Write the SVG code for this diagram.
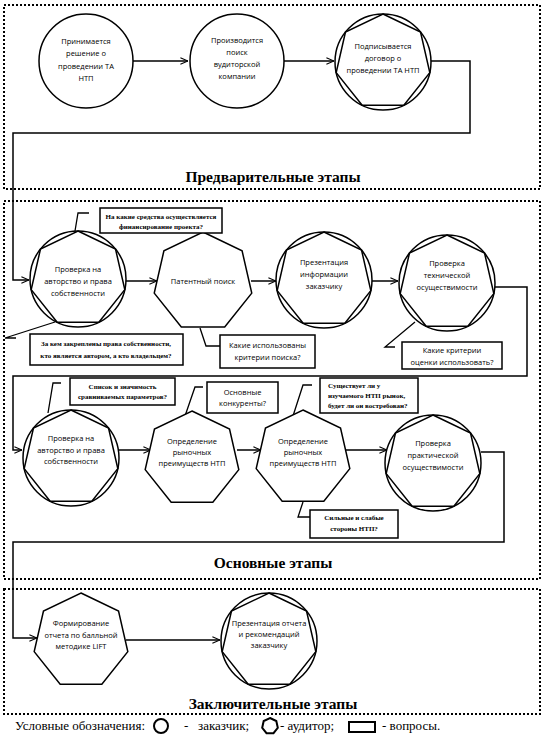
<svg xmlns="http://www.w3.org/2000/svg" xmlns:xlink="http://www.w3.org/1999/xlink" width="548" height="739" viewBox="0 0 548 739">
<style>
.bg{fill:#fff}
.frame{fill:none;stroke:#000;stroke-width:2;stroke-dasharray:2 2}
.shape{fill:#fff;stroke:#000;stroke-width:1.5}
.inner{fill:none;stroke:#000;stroke-width:1.5}
.box{fill:#fff;stroke:#000;stroke-width:1.5}
.con{fill:none;stroke:#000;stroke-width:1.5}
.lead{fill:none;stroke:#000;stroke-width:1.3}
.t{font-family:"Open Sans","Liberation Sans",sans-serif;font-size:7.5px;text-anchor:middle;fill:#000}
.q{font-family:"Liberation Serif","DejaVu Serif",serif;font-size:7px;font-weight:bold;text-anchor:middle;fill:#000}
.title{font-family:"Liberation Serif","DejaVu Serif",serif;font-size:15.5px;font-weight:bold;text-anchor:middle;fill:#000}
.leg{font-family:"Liberation Serif","DejaVu Serif",serif;font-size:13px;fill:#000}
</style>
<defs>
<polygon id="h48" points="0,-48 37.53,-29.93 46.8,10.68 20.83,43.25 -20.83,43.25 -46.8,10.68 -37.53,-29.93"/>
<polygon id="h50" points="0,-50 39.09,-31.18 48.75,11.13 21.7,45.05 -21.7,45.05 -48.75,11.13 -39.09,-31.18"/>
<marker id="arr" viewBox="0 0 10 10" refX="9.5" refY="5" markerWidth="8" markerHeight="8" markerUnits="userSpaceOnUse" orient="auto">
<path d="M0,1 L9.5,5 L0,9" fill="none" stroke="#000" stroke-width="1.4"/>
</marker>
</defs>
<rect class="bg" x="0" y="0" width="548" height="739"/>

<g id="frames">
<rect class="frame" x="4" y="5" width="536" height="184"/>
<rect class="frame" x="4" y="201" width="536" height="378"/>
<rect class="frame" x="4" y="589" width="536" height="125"/>
<text class="title" x="273" y="182">Предварительные этапы</text>
<text class="title" x="273" y="568">Основные этапы</text>
<text class="title" x="273" y="709">Заключительные этапы</text>
</g>

<g id="connectors">
<path class="con" d="M133,61 H188" marker-end="url(#arr)"/>
<path class="con" d="M284,61 H334" marker-end="url(#arr)"/>
<path class="con" d="M431,61 H470 V133 H13 V280 H29" marker-end="url(#arr)"/>
<path class="con" d="M126,281 H157" marker-end="url(#arr)"/>
<path class="con" d="M251,281 H276" marker-end="url(#arr)"/>
<path class="con" d="M372,281 H398" marker-end="url(#arr)"/>
<path class="con" d="M495,287 H527 V376 H13 V450 H22" marker-end="url(#arr)"/>
<path class="con" d="M119,450 H151" marker-end="url(#arr)"/>
<path class="con" d="M237,450 H261" marker-end="url(#arr)"/>
<path class="con" d="M345,450 H387" marker-end="url(#arr)"/>
<path class="con" d="M481,452 H504 V542 H13 V638 H37" marker-end="url(#arr)"/>
<path class="con" d="M126,640 H220" marker-end="url(#arr)"/>
<polyline class="lead" points="75,231 78,213 89,213"/>
<polyline class="lead" points="55,322 5,338 16,338"/>
<polyline class="lead" points="200,328 206,346 220,346"/>
<polyline class="lead" points="415,322 385,347 395,347"/>
<polyline class="lead" points="48,413 53,383 61,383"/>
<polyline class="lead" points="185,416 195,387 203,387"/>
<polyline class="lead" points="293,416 303,385 312,385"/>
<polyline class="lead" points="303,502 298,517 310,517"/>
</g>

<g id="n1">
<circle class="shape" cx="86" cy="61" r="47"/>
<text class="t" x="86" y="43.5">Принимается</text>
<text class="t" x="86" y="56">решение о</text>
<text class="t" x="86" y="68.5">проведении ТА</text>
<text class="t" x="86" y="81">НТП</text>
</g>
<g id="n2">
<circle class="shape" cx="237" cy="61" r="47"/>
<text class="t" x="237" y="43">Производится</text>
<text class="t" x="237" y="55">поиск</text>
<text class="t" x="237" y="67">вудиторской</text>
<text class="t" x="237" y="79">компании</text>
</g>
<g id="n3">
<circle class="shape" cx="383" cy="62" r="48"/>
<use href="#h48" xlink:href="#h48" x="383" y="62" class="inner"/>
<text class="t" x="383" y="48.5">Подписывается</text>
<text class="t" x="383" y="60.5">договор о</text>
<text class="t" x="383" y="72.5">проведении ТА НТП</text>
</g>

<g id="n4">
<circle class="shape" cx="78" cy="279" r="48"/>
<use href="#h48" xlink:href="#h48" x="78" y="279" class="inner"/>
<text class="t" x="78" y="272">Проверка на</text>
<text class="t" x="78" y="284">авторство и права</text>
<text class="t" x="78" y="296">собственности</text>
</g>
<g id="n5">
<use href="#h50" xlink:href="#h50" x="203" y="282" class="shape"/>
<text class="t" x="203" y="284">Патентный поиск</text>
</g>
<g id="n6">
<circle class="shape" cx="324" cy="280" r="48"/>
<use href="#h48" xlink:href="#h48" x="324" y="280" class="inner"/>
<text class="t" x="324" y="265">Презентация</text>
<text class="t" x="324" y="277">информации</text>
<text class="t" x="324" y="289">заказчику</text>
</g>
<g id="n7">
<circle class="shape" cx="447" cy="283" r="48"/>
<use href="#h48" xlink:href="#h48" x="447" y="283" class="inner"/>
<text class="t" x="447" y="266">Проверка</text>
<text class="t" x="447" y="278">технической</text>
<text class="t" x="447" y="290">осуществимости</text>
</g>

<g id="n8">
<circle class="shape" cx="71" cy="458" r="48"/>
<use href="#h48" xlink:href="#h48" x="71" y="458" class="inner"/>
<text class="t" x="71" y="441">Проверка на</text>
<text class="t" x="71" y="452.5">авторство и права</text>
<text class="t" x="71" y="464">собственности</text>
</g>
<g id="n9">
<use href="#h48" xlink:href="#h48" x="192" y="459" class="shape"/>
<text class="t" x="192" y="444">Определение</text>
<text class="t" x="192" y="455">рыночных</text>
<text class="t" x="192" y="466">преимуществ НТП</text>
</g>
<g id="n10">
<use href="#h48" xlink:href="#h48" x="303" y="458" class="shape"/>
<text class="t" x="303" y="444">Определение</text>
<text class="t" x="303" y="455">рыночных</text>
<text class="t" x="303" y="466">преимуществ НТП</text>
</g>
<g id="n11">
<circle class="shape" cx="433" cy="463" r="48"/>
<use href="#h48" xlink:href="#h48" x="433" y="463" class="inner"/>
<text class="t" x="433" y="446">Проверка</text>
<text class="t" x="433" y="458">практической</text>
<text class="t" x="433" y="469.5">осуществимости</text>
</g>

<g id="n12">
<use href="#h48" xlink:href="#h48" x="81" y="641" class="shape"/>
<text class="t" x="81" y="626">Формирование</text>
<text class="t" x="81" y="637.5">отчета по балльной</text>
<text class="t" x="81" y="649">методике LIFT</text>
</g>
<g id="n13">
<circle class="shape" cx="269" cy="641" r="48"/>
<use href="#h48" xlink:href="#h48" x="269" y="641" class="inner"/>
<text class="t" x="269" y="626">Презентация отчета</text>
<text class="t" x="269" y="637">и рекомендаций</text>
<text class="t" x="269" y="648">заказчику</text>
</g>

<g id="q1">
<rect class="box" x="100" y="208" width="122" height="25"/>
<text class="q" x="161" y="218.5">На какие средства осуществляется</text>
<text class="q" x="161" y="229">финансирование проекта?</text>
</g>
<g id="q2">
<rect class="box" x="30" y="334" width="153" height="31"/>
<text class="q" x="106" y="346">За кем закреплены права собственности,</text>
<text class="q" x="106" y="357.5">кто является автором, а кто владельцем?</text>
</g>
<g id="q3">
<rect class="box" x="220" y="335" width="95" height="33"/>
<text class="t" x="267.5" y="348">Какие использованы</text>
<text class="t" x="267.5" y="360">критерии поиска?</text>
</g>
<g id="q4">
<rect class="box" x="402" y="342" width="100" height="27"/>
<text class="t" x="452" y="353">Какие критерии</text>
<text class="t" x="452" y="364.5">оценки использовать?</text>
</g>
<g id="q5">
<rect class="box" x="70" y="378" width="105" height="27"/>
<text class="q" x="122.5" y="388.5">Список и значимость</text>
<text class="q" x="122.5" y="398.5">сравниваемых параметров?</text>
</g>
<g id="q6">
<rect class="box" x="207" y="382" width="71" height="31"/>
<text class="t" x="242.5" y="394.5">Основные</text>
<text class="t" x="242.5" y="405.5">конкуренты?</text>
</g>
<g id="q7">
<rect class="box" x="320" y="378" width="98" height="35"/>
<text class="q" x="328" y="388" style="text-anchor:start">Существует ли у</text>
<text class="q" x="328" y="398" style="text-anchor:start">изучаемого НТП рынок,</text>
<text class="q" x="328" y="408" style="text-anchor:start">будет ли он востребован?</text>
</g>
<g id="q8">
<rect class="box" x="310" y="510" width="88" height="28"/>
<text class="q" x="354" y="520">Сильные и слабые</text>
<text class="q" x="354" y="531">стороны НТП?</text>
</g>

<g id="legend">
<text class="leg" x="15" y="730">Условные обозначения:</text>
<circle cx="161" cy="726" r="7" fill="none" stroke="#000" stroke-width="2"/>
<text class="leg" x="184" y="730">-<tspan x="198">заказчик;</tspan></text>
<polygon points="270,718 276.3,721 277.8,727.8 273.5,733.2 266.5,733.2 262.2,727.8 263.7,721" fill="none" stroke="#000" stroke-width="2"/>
<text class="leg" x="280" y="730">- аудитор;</text>
<rect x="349" y="722" width="26" height="10" fill="none" stroke="#000" stroke-width="2"/>
<text class="leg" x="382" y="730">- вопросы.</text>
</g>
</svg>
